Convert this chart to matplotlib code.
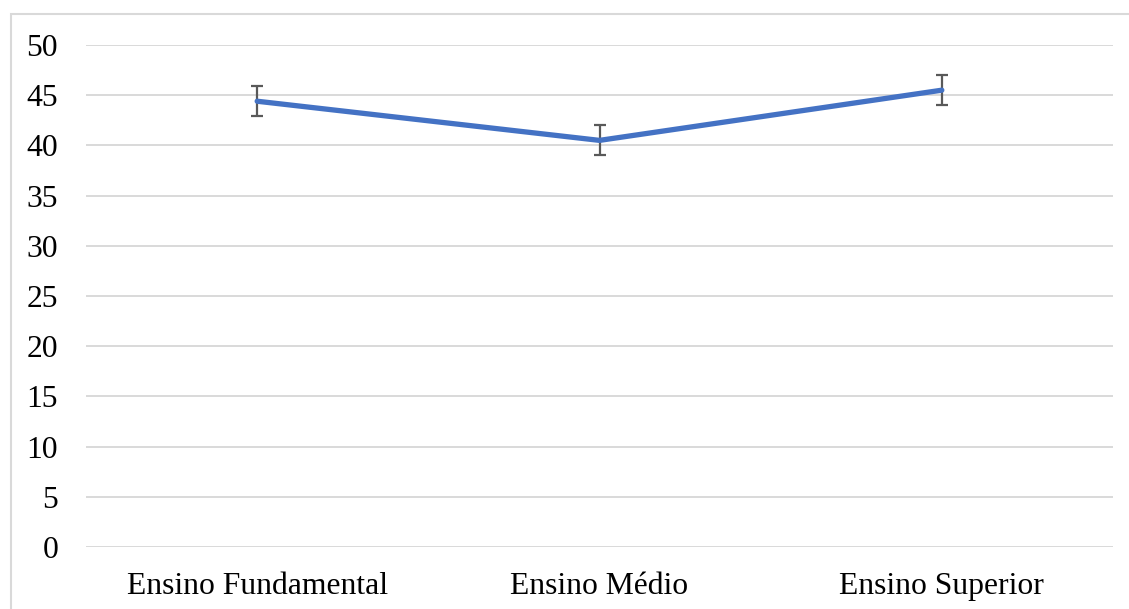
import matplotlib.pyplot as plt
from matplotlib.patches import Rectangle

categories = ["Ensino Fundamental", "Ensino Médio", "Ensino Superior"]
values = [44.4, 40.5, 45.5]
errors = [1.5, 1.5, 1.5]
y_ticks = [0, 5, 10, 15, 20, 25, 30, 35, 40, 45, 50]

plt.rcParams["font.family"] = ["Liberation Serif", "DejaVu Serif"]

W, H = 1129, 609
fig = plt.figure(figsize=(W / 100, H / 100), dpi=100)
ax = fig.add_axes([86 / W, 1 - 547 / H, (1113 - 86) / W, (547 - 45) / H])

x = list(range(len(categories)))
ax.errorbar(x, values, yerr=errors, color="#4472C4", linewidth=3.8,
            ecolor="#595959", elinewidth=1.6, capsize=4.5, capthick=1.6,
            solid_capstyle="round", zorder=3)

ax.set_xlim(-0.5, len(categories) - 0.5)
ax.set_ylim(0, 50)
ax.set_yticks(y_ticks)
ax.set_xticks(x)
ax.set_xticklabels(categories)
ax.yaxis.grid(True, color="#d9d9d9", linewidth=1.4)
ax.set_axisbelow(True)
for s in ax.spines.values():
    s.set_visible(False)
ax.tick_params(axis="both", length=0, labelsize=22.8, colors="black")
ax.tick_params(axis="y", pad=20)
ax.tick_params(axis="x", pad=18)

# chart area border (partially outside the image)
fig.patches.append(Rectangle((10.5 / W, -0.1), 1.2, 1.1 - 14.5 / H,
                             transform=fig.transFigure, fill=False,
                             edgecolor="#d9d9d9", linewidth=1.5))

fig.savefig("out.png", dpi=100)
